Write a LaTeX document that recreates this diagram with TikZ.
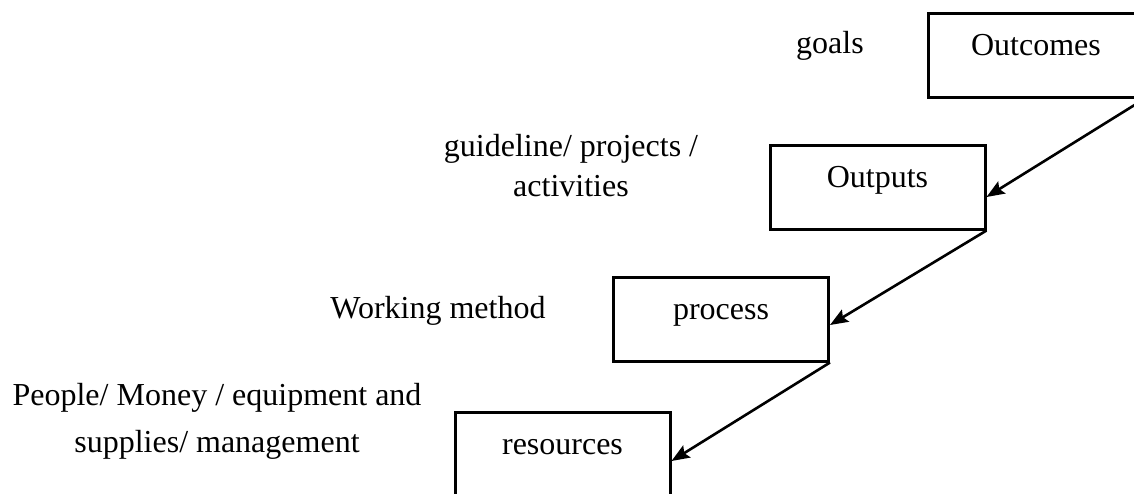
\documentclass[tikz,border=0pt]{standalone}
\usepackage{fontspec}
\setmainfont{Liberation Serif}
\usetikzlibrary{arrows.meta}
\begin{document}
\begin{tikzpicture}[x=1pt,y=-1pt,
  every node/.style={font=\fontsize{32}{37}\selectfont},
  stagebox/.style={draw, line width=3pt, minimum width=215pt, minimum height=84pt,
    text height=22pt, text depth=22pt, inner sep=0pt},
  lbl/.style={inner sep=0pt, align=center},
  conn/.style={-{Stealth[length=18pt,width=14pt,inset=3pt]}, line width=2.6pt}]
\useasboundingbox (0,0) rectangle (1134,493);
\node[stagebox] (outcomes) at (1036,55) {Outcomes};
\node[stagebox] (outputs) at (877.5,187) {Outputs};
\node[stagebox] (process) at (721,319) {process};
\node[stagebox] (resources) at (562.5,454) {resources};
\node[lbl, anchor=base] (goals) at (830,53) {goals};
\node[lbl, anchor=base, font=\fontsize{32}{40}\selectfont] (guide) at (571,196) {guideline/ projects /\\activities};
\node[lbl, anchor=base] (method) at (438,318) {Working method};
\node[lbl, anchor=base, font=\fontsize{32}{47}\selectfont] (people) at (217,452) {People/ Money / equipment and\\supplies/ management};
\draw[conn] (outcomes.south east) -- ([yshift=-10pt]outputs.east);
\draw[conn] (outputs.south east) -- ([yshift=-6pt]process.east);
\draw[conn] (process.south east) -- ([yshift=-7pt]resources.east);
\end{tikzpicture}
\end{document}
